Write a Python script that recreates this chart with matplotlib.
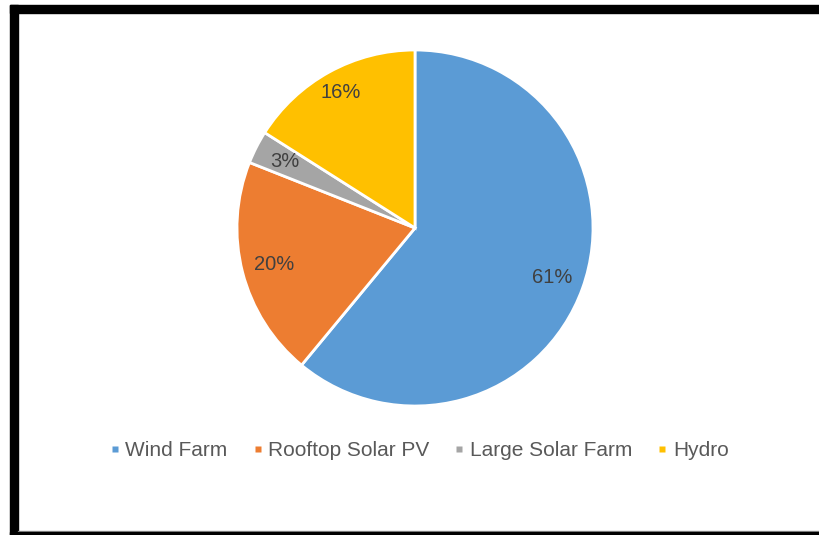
import matplotlib
matplotlib.use("Agg")
import matplotlib.pyplot as plt
from matplotlib.lines import Line2D
from matplotlib.patches import Rectangle

categories = ["Wind Farm", "Rooftop Solar PV", "Large Solar Farm", "Hydro"]
values = [61, 20, 3, 16]
colors = ["#5B9BD5", "#ED7D31", "#A5A5A5", "#FFC000"]

W, H = 820, 535
fig = plt.figure(figsize=(W / 100, H / 100), dpi=100)
plt.rcParams['font.family'] = ['Liberation Sans', 'DejaVu Sans']

# border
def px_rect(x0, y0, x1, y1, color):
    fig.patches.append(Rectangle((x0 / W, 1 - y1 / H), (x1 - x0) / W, (y1 - y0) / H,
                                 transform=fig.transFigure, color=color, zorder=0))
px_rect(10, 5, 820, 13, "black")
px_rect(10, 5, 18, 535, "black")
px_rect(18, 531, 820, 532, "#999999")
px_rect(10, 532, 820, 535, "black")

cx, cy, r = 415, 228, 178
ax = fig.add_axes([(cx - r) / W, 1 - (cy + r) / H, 2 * r / W, 2 * r / H])
wedges, texts, autotexts = ax.pie(
    values, colors=colors, startangle=90, counterclock=False,
    autopct=lambda p: f"{p:.0f}%", pctdistance=0.82,
    wedgeprops=dict(edgecolor="white", linewidth=2),
    textprops=dict(color="#404040", fontsize=14.5))
# nudge Hydro label slightly outward, as in the reference
x, y = autotexts[3].get_position()
autotexts[3].set_position((x * 1.06, y * 1.06))
ax.set_xlim(-1, 1)
ax.set_ylim(-1, 1)
ax.set_aspect("equal")
ax.axis("off")

handles = [Line2D([], [], marker="s", linestyle="none", markersize=4.5,
                  markerfacecolor=c, markeredgecolor="none") for c in colors]
leg = fig.legend(handles, categories, loc="center", ncol=4,
                 bbox_to_anchor=(419 / W, 1 - 451 / H), frameon=False,
                 fontsize=15, handlelength=0.5, handletextpad=0.25,
                 columnspacing=1.2, labelcolor="#595959")

fig.savefig("out.png", dpi=100, facecolor="white")
